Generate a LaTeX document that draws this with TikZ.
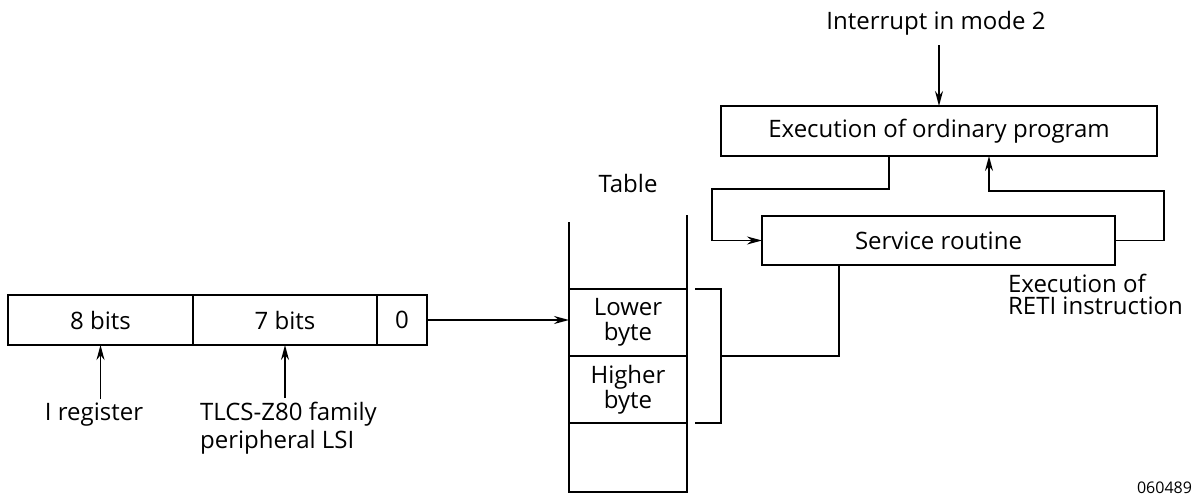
\documentclass[tikz,border=0pt]{standalone}
\usepackage{fontspec}
\setmainfont{Open Sans}
\usetikzlibrary{positioning,arrows.meta}

\begin{document}
\begin{tikzpicture}[x=1pt, y=-1pt,
    font=\fontsize{24}{28}\selectfont,
    line width=1.5pt,
    >={Stealth[length=15pt,width=8pt]},
    field/.style={draw, minimum height=50pt, inner sep=0pt, outer sep=0pt},
    cell/.style={draw, minimum width=118pt, inner sep=0pt, outer sep=0pt,
      align=center, font=\fontsize{24}{25}\selectfont},
    flowbox/.style={draw, minimum height=50pt, inner sep=0pt, outer sep=0pt}]

  \useasboundingbox (0,0) rectangle (1195,495);

  % Define nodes
  \node[field, minimum width=185pt]                (r8) at (100.5,320) {8 bits};
  \node[field, minimum width=184pt, right=0pt of r8] (r7) {7 bits};
  \node[field, minimum width=50pt,  right=0pt of r7] (r0) {0};
  \node                                            (ireg) at (94,415) {I register};
  \node[align=left, anchor=north west]             (lsi) at (196,398) {TLCS-Z80 family\\peripheral LSI};

  \node                                      (tlabel) at (628,183) {Table};
  \node[cell, minimum height=67pt]           (low) at (628,322.5) {Lower\\byte};
  \node[cell, minimum height=67pt, below=0pt of low]  (high) {Higher\\byte};
  \node[cell, minimum height=69pt, below=0pt of high] (empty) {};

  \node[flowbox, minimum width=436pt]        (exec) at (939,131) {Execution of ordinary program};
  \node[flowbox, minimum width=353pt, minimum height=49pt] (serv) at (938.5,240.5) {Service routine};
  \node                                      (intr) at (936,23) {Interrupt in mode 2};
  \node[align=left, anchor=west, font=\fontsize{24}{22}\selectfont] (reti) at (1004,294) {Execution of\\RETI instruction};
  \node[font=\fontsize{16}{18}\selectfont, anchor=north, inner sep=0pt] (code) at (1164.5,481) {060489};

  % Table sides above the first cell
  \draw (low.north west) -- ++(0,-67);
  \draw (low.north east) -- ++(0,-74);

  % Connect the nodes
  \draw[->] (r8.south |- ireg.north) -- (r8.south);
  \draw[->] (r7.south |- lsi.north) -- (r7.south);
  \draw[->] (r0.east) -- (r0.east -| low.west);
  \draw ([xshift=8pt]low.north east) -- ++(26,0) |- ([xshift=8pt]high.south east);
  \draw ([xshift=34pt]low.south east) -| ([xshift=-99.5pt]serv.south);
  \draw[->, shorten <=6pt] (intr.south -| exec.north) -- (exec.north);
  \draw[->] ([xshift=-50pt]exec.south) -- ++(0,33) -| ([xshift=-50pt]serv.west) -- (serv.west);
  \draw[->] (serv.east) -- ++(49,0) |- ([xshift=50pt,yshift=-35pt]exec.south) -- ([xshift=50pt]exec.south);

\end{tikzpicture}
\end{document}
